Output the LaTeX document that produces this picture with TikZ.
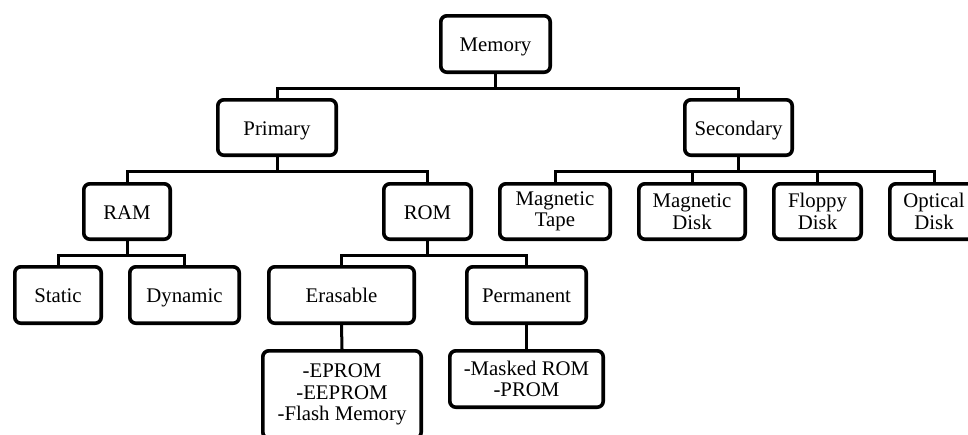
\documentclass[tikz,border=0pt]{standalone}
\usepackage{fontspec}
\setmainfont{Liberation Serif}
\usetikzlibrary{calc}
\begin{document}
\begin{tikzpicture}[x=1pt,y=-1pt,
  box/.style={draw=black,line width=3.6pt,rounded corners=6pt,inner sep=0pt,
    align=center,font=\fontsize{20.8}{21.5}\selectfont},
  one/.style={box,text height=15pt,text depth=0pt},
  conn/.style={draw=black,line width=3pt}]
\useasboundingbox (0,0) rectangle (968,434);
\clip (0,0) rectangle (968,434);
% level 0
\node[one,minimum width=109.4pt,minimum height=56.4pt] (mem) at (495.5,44) {Memory};
% level 1
\node[one,minimum width=118.4pt,minimum height=55.4pt] (prim) at (277,127.5) {Primary};
\node[one,minimum width=107.4pt,minimum height=55.4pt] (sec) at (738.5,127.5) {Secondary};
% level 2
\node[one,minimum width=86.4pt,minimum height=55.4pt] (ram) at (127,211.5) {RAM};
\node[one,minimum width=87.4pt,minimum height=55.4pt] (rom) at (427.5,211.5) {ROM};
\node[box,minimum width=110.4pt,minimum height=55.4pt] (tape) at (555,211.5) {Magnetic\\Tape};
\node[box,minimum width=106.4pt,minimum height=55.4pt] (mdisk) at (692,211.5) {Magnetic\\Disk};
\node[box,minimum width=87.4pt,minimum height=55.4pt] (floppy) at (817.5,211.5) {Floppy\\Disk};
\node[box,minimum width=88.4pt,minimum height=55.4pt] (optical) at (934,211.5) {Optical\\Disk};
% level 3
\node[one,minimum width=86.4pt,minimum height=56.4pt] (static) at (58,295) {Static};
\node[one,minimum width=109.4pt,minimum height=56.4pt] (dynamic) at (184.5,295) {Dynamic};
\node[one,minimum width=145.4pt,minimum height=56.4pt] (eras) at (341.5,295) {Erasable};
\node[one,minimum width=119.4pt,minimum height=56.4pt] (perm) at (526.5,295) {Permanent};
% level 4
\node[box,minimum width=158.4pt,minimum height=87.4pt] (eprom) at (342,394.5) {-EPROM\\-EEPROM\\-Flash Memory};
\node[box,minimum width=153.4pt,minimum height=56.4pt] (masked) at (526.5,379) {-Masked ROM\\-PROM};
% connectors
\draw[conn] (mem.south) -- ++(0,14) coordinate (b1);
\draw[conn] (prim.north) |- (b1) -| (sec.north);
\draw[conn] (prim.south) -- ++(0,14) coordinate (b2);
\draw[conn] (ram.north) |- (b2) -| (rom.north);
\draw[conn] (sec.south) -- ++(0,14) coordinate (b3);
\draw[conn] (tape.north) |- (b3) -| (optical.north);
\draw[conn] (mdisk.north) -- (mdisk.north |- b3);
\draw[conn] (floppy.north) -- (floppy.north |- b3);
\draw[conn] (ram.south) -- ++(0,14) coordinate (b4);
\draw[conn] (static.north) |- (b4) -| (dynamic.north);
\draw[conn] (rom.south) -- ++(0,14) coordinate (b5);
\draw[conn] (eras.north) |- (b5) -| (perm.north);
\draw[conn] (eras.south) -- (eprom.north);
\draw[conn] (perm.south) -- (masked.north);
\end{tikzpicture}
\end{document}
